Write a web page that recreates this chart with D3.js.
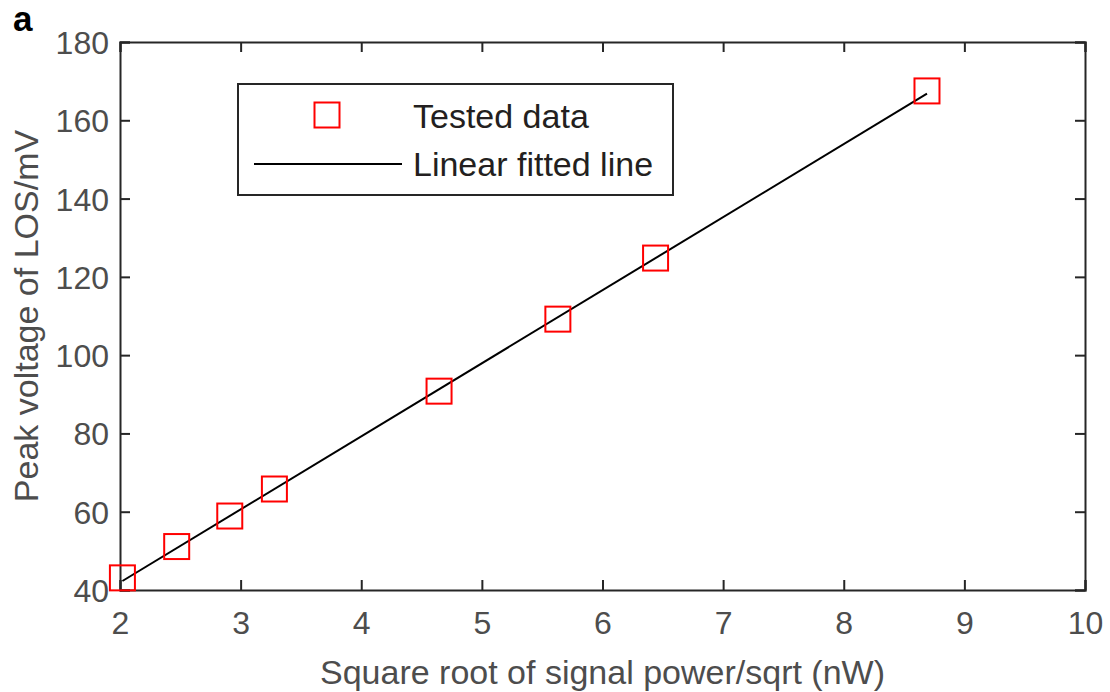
<!DOCTYPE html>
<html>
<head>
<meta charset="utf-8">
<script src="https://cdn.jsdelivr.net/npm/d3@7"></script>
<style>
  html, body { margin: 0; padding: 0; background: #fff; }
  svg { display: block; font-family: "Liberation Sans", Arial, Helvetica, sans-serif; }
</style>
</head>
<body>
<svg id="chart"></svg>
<script>
// tested data
const sqrtPower = [2.02, 2.47, 2.91, 3.28, 4.645, 5.63, 6.44, 8.69];
const peakVoltage = [43.1, 51.1, 58.9, 65.8, 90.8, 109.2, 124.8, 167.5];

// linear fit, drawn between its two end points
const fitX = [2.02, 8.69];
const fitY = [42.3, 166.8];

const xTicks = [2, 3, 4, 5, 6, 7, 8, 9, 10];
const yTicks = [40, 60, 80, 100, 120, 140, 160, 180];

const legendLabels = ["Tested data", "Linear fitted line"];

const config = {
    width: 1110,
    height: 692,
    margin: {left: 120, right: 25, top: 42, bottom: 102}
};

const svg = d3.select("#chart")
    .attr("width", config.width)
    .attr("height", config.height);

const innerW = config.width - config.margin.left - config.margin.right;
const innerH = config.height - config.margin.top - config.margin.bottom;

const xScale = d3.scaleLinear().domain([2, 10])
    .range([config.margin.left, config.margin.left + innerW]);
const yScale = d3.scaleLinear().domain([40, 180])
    .range([config.margin.top + innerH, config.margin.top]);

const axisColor = "#262626";
const labelColor = "#4d4d4d";
const tickLen = 10;

// axes (ticks pointing inward, box on all four sides)
const gx = svg.append("g")
    .attr("transform", `translate(0, ${yScale(40)})`)
    .call(d3.axisBottom(xScale).tickValues(xTicks).tickSize(-tickLen).tickPadding(21).tickFormat(d3.format("d")));
const gxTop = svg.append("g")
    .attr("transform", `translate(0, ${yScale(180)})`)
    .call(d3.axisTop(xScale).tickValues(xTicks).tickSize(-tickLen).tickFormat(""));
const gy = svg.append("g")
    .attr("transform", `translate(${xScale(2)}, 0)`)
    .call(d3.axisLeft(yScale).tickValues(yTicks).tickSize(-tickLen).tickPadding(11).tickFormat(d3.format("d")));
const gyRight = svg.append("g")
    .attr("transform", `translate(${xScale(10)}, 0)`)
    .call(d3.axisRight(yScale).tickValues(yTicks).tickSize(-tickLen).tickFormat(""));

[gx, gxTop, gy, gyRight].forEach(g => {
    g.select(".domain").attr("stroke", axisColor).attr("stroke-width", 2);
    g.selectAll(".tick line").attr("stroke", axisColor).attr("stroke-width", 2);
    g.selectAll(".tick text")
        .attr("fill", labelColor)
        .attr("font-size", "32px")
        .attr("font-family", "'Liberation Sans', Arial, sans-serif");
});
gx.selectAll(".tick text").attr("dy", "0.71em");
gy.selectAll(".tick text").attr("dy", "0.36em");

// axis titles
svg.append("text")
    .attr("x", xScale(6))
    .attr("y", 684)
    .attr("text-anchor", "middle")
    .attr("fill", labelColor)
    .attr("font-size", "34px")
    .text("Square root of signal power/sqrt (nW)");

svg.append("text")
    .attr("transform", `translate(38, ${yScale(110)}) rotate(-90)`)
    .attr("text-anchor", "middle")
    .attr("fill", labelColor)
    .attr("font-size", "34px")
    .text("Peak voltage of LOS/mV");

// panel letter
svg.append("text")
    .attr("x", 13)
    .attr("y", 31)
    .attr("fill", "#000")
    .attr("font-size", "35px")
    .attr("font-weight", "bold")
    .text("a");

// fitted line
const fitData = fitX.map((x, i) => ({x: x, y: fitY[i]}));
svg.append("path")
    .datum(fitData)
    .attr("fill", "none")
    .attr("stroke", "#000")
    .attr("stroke-width", 2)
    .attr("d", d3.line().x(d => xScale(d.x)).y(d => yScale(d.y)));

// tested data markers
const markerSize = 25;
svg.append("g")
    .selectAll("rect")
    .data(sqrtPower.map((x, i) => ({x: x, y: peakVoltage[i]})))
    .join("rect")
    .attr("x", d => xScale(d.x) - markerSize / 2)
    .attr("y", d => yScale(d.y) - markerSize / 2)
    .attr("width", markerSize)
    .attr("height", markerSize)
    .attr("fill", "none")
    .attr("stroke", "#ff0000")
    .attr("stroke-width", 2);

// legend
const legend = svg.append("g").attr("transform", "translate(238, 84)");
legend.append("rect")
    .attr("width", 435)
    .attr("height", 111)
    .attr("fill", "#fff")
    .attr("stroke", axisColor)
    .attr("stroke-width", 2);
legend.append("rect")
    .attr("x", 89 - markerSize / 2)
    .attr("y", 31 - markerSize / 2)
    .attr("width", markerSize)
    .attr("height", markerSize)
    .attr("fill", "none")
    .attr("stroke", "#ff0000")
    .attr("stroke-width", 2);
legend.append("line")
    .attr("x1", 16).attr("x2", 164)
    .attr("y1", 80).attr("y2", 80)
    .attr("stroke", "#000")
    .attr("stroke-width", 2);
legend.selectAll("text.lbl")
    .data(legendLabels)
    .join("text")
    .attr("class", "lbl")
    .attr("x", 175)
    .attr("y", (d, i) => 44 + i * 48)
    .attr("fill", "#231f20")
    .attr("font-size", "34px")
    .text(d => d);
</script>
</body>
</html>
